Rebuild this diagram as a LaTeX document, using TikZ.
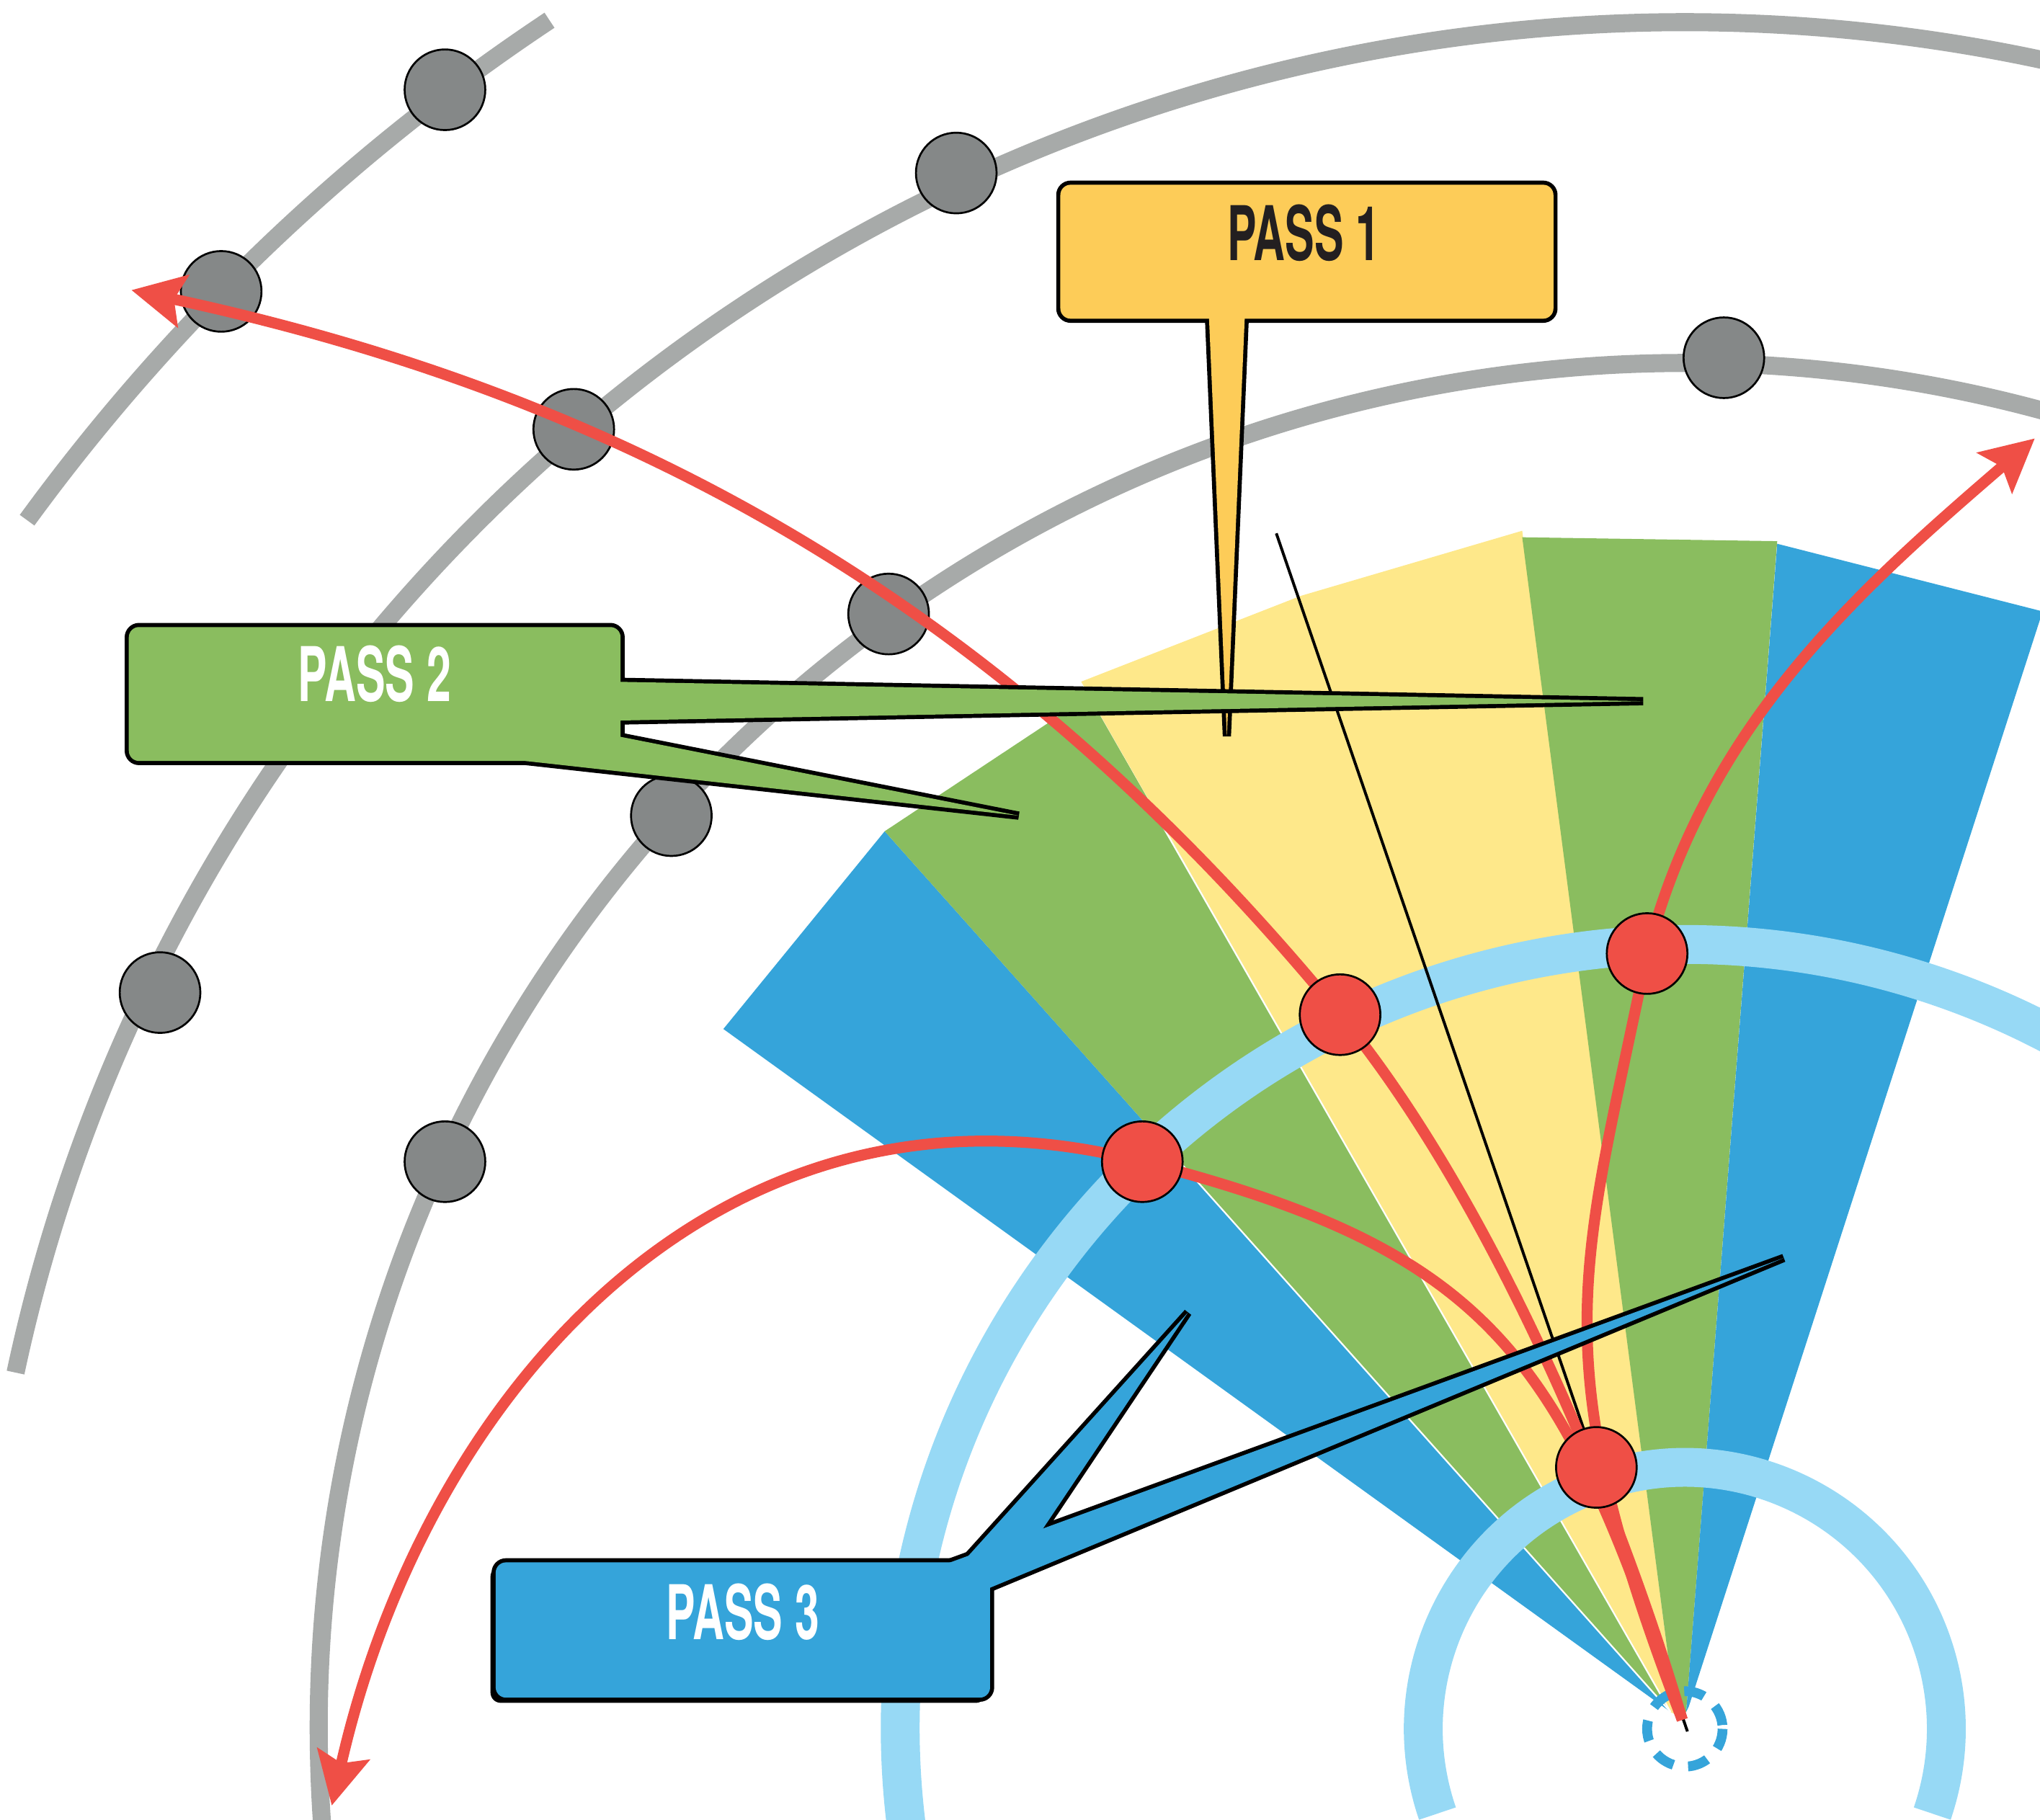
\documentclass[tikz,border=0pt]{standalone}
\usepackage{fontspec}
\usepackage{graphicx}
\setsansfont{TeX Gyre Heros}
\usetikzlibrary{arrows.meta}
\definecolor{cgrayarc}{HTML}{A7AAA9}
\definecolor{cgraydot}{HTML}{858888}
\definecolor{cred}{HTML}{EF4F46}
\definecolor{clblue}{HTML}{97D9F5}
\definecolor{cblue}{HTML}{35A4DA}
\definecolor{cgreen}{HTML}{8ABD5F}
\definecolor{cyellow}{HTML}{FEE88A}
\definecolor{corange}{HTML}{FDCC58}
\definecolor{ctext}{HTML}{231F20}
\newcommand\passtext[1]{\scalebox{0.58}[1]{\fontsize{33}{33}\selectfont\sffamily\bfseries #1}}
\begin{document}
\begin{tikzpicture}[x=0.02cm, y=-0.02cm,
  orbit/.style={draw=cgrayarc, line width=7.9pt},
  ring/.style={draw=clblue, line width=17pt},
  graydotst/.style={circle, fill=cgraydot, draw=black, line width=0.85pt, minimum size=1.24cm, inner sep=0pt},
  reddotst/.style={circle, fill=cred, draw=black, line width=0.85pt, minimum size=1.24cm, inner sep=0pt},
  redarrow/.style={draw=cred, line width=4.8pt, -{Stealth[length=23pt,width=23pt,inset=4pt]}},
  outlinest/.style={draw=black, line width=3.6pt},
  labeltext/.style={inner sep=0pt, anchor=center}
]
\path[use as bounding box] (0,0) rectangle (1568,1399);
\clip (0,0) rectangle (1568,1399);

% gray orbits
\coordinate (o) at (1295,1329);
\draw[orbit] (o) ++(216.1:1577) arc[start angle=216.1, end angle=236.4, radius=1577];
\draw[orbit] (o) ++(192.05:1312) arc[start angle=192.05, end angle=290, radius=1312];
\draw[orbit] (o) ++(175:1050) arc[start angle=175, end angle=300, radius=1050];

% gray dots
\node[graydotst] (g1) at (342,69) {};
\node[graydotst] (g2) at (170,224) {};
\node[graydotst] (g3) at (735,133) {};
\node[graydotst] (g4) at (441,330) {};
\node[graydotst] (g5) at (123,763) {};
\node[graydotst] (g6) at (1325,275) {};
\node[graydotst] (g7) at (683,472) {};
\node[graydotst] (g8) at (516,627) {};
\node[graydotst] (g9) at (342,893) {};

% wedges
\fill[cblue] (556,791) -- (680,639) -- (1284,1316) -- cycle;
\fill[cgreen] (680,639) -- (837,535) -- (1284,1316) -- cycle;
\fill[cyellow] (831,524) -- (1000,458) -- (1170,408) -- (1288,1318) -- (1284,1316) -- cycle;
\fill[cgreen] (1170,413) -- (1366,416) -- (1296,1316) -- (1288,1318) -- cycle;
\fill[cblue] (1366,418) -- (1570,470) -- (1298,1312) -- (1296,1316) -- cycle;
\draw[white, line width=0.7pt] (885,620) -- (1284,1316);
\draw[white, line width=0.7pt] (895,880) -- (1284,1316);

% light blue rings
\draw[ring] (o) ++(171:603) arc[start angle=171, end angle=310, radius=603];
\draw[ring] (o) ++(161.1:201) arc[start angle=161.1, end angle=378.9, radius=201];

% dashed centre circle
\draw[cblue, line width=4.3pt, dash pattern=on 9pt off 6.5pt] (o) circle[radius=29];

% thin black line
\coordinate (k1) at (981,410);
\coordinate (k2) at (1297,1331);
\draw[black, line width=1.25pt] (k1) -- (k2);

% red paths
\coordinate (apex) at (1293,1322);
\coordinate (p1) at (1030,780);
\coordinate (p2) at (1266,733);
\coordinate (p3) at (878,893);
\coordinate (p4) at (1227,1128);
\coordinate (t1) at (101,223);
\coordinate (t2) at (1564,337);
\coordinate (t3) at (255,1388);
\draw[redarrow] (apex) .. controls (1242,1149) and (1144,919) .. (p1) .. controls (776,471) and (492,307) .. (t1);
\draw[redarrow] (apex) .. controls (1184,1038) and (1216,978) .. (p2) .. controls (1311,558) and (1427,455) .. (t2);
\draw[redarrow] (apex) .. controls (1201,1044) and (1150,963) .. (p3) .. controls (558,810) and (328,1066) .. (t3);

% red dots
\node[reddotst] (d1) at (p1) {};
\node[reddotst] (d2) at (p2) {};
\node[reddotst] (d3) at (p3) {};
\node[reddotst] (d4) at (p4) {};

% PASS 1
\draw[outlinest, rounded corners=4.5pt] (815,142) rectangle (1194,245);
\draw[outlinest] (929,238) -- (943,566) -- (957,238) -- cycle;
\fill[corange, rounded corners=4.5pt] (815,142) rectangle (1194,245);
\fill[corange] (929,238) -- (943,566) -- (957,238) -- cycle;
\node[labeltext, text=ctext] (l1) at (1002,179) {\passtext{PASS 1}};

% PASS 2
\draw[outlinest, rounded corners=4.5pt] (99,482) rectangle (477,585);
\draw[outlinest] (470,524) -- (1263,539) -- (470,554) -- cycle;
\draw[outlinest] (470,565) -- (783,627) -- (404,585) -- (470,585) -- cycle;
\fill[cgreen, rounded corners=4.5pt] (99,482) rectangle (477,585);
\fill[cgreen] (470,524) -- (1263,539) -- (470,554) -- cycle;
\fill[cgreen] (470,565) -- (783,627) -- (404,585) -- (470,585) -- cycle;
\node[labeltext, text=white] (l2) at (288,518) {\passtext{PASS 2}};

% PASS 3
\fill[black, rounded corners=4.5pt] (377,1204) rectangle (758,1309);
\draw[outlinest, rounded corners=4.5pt] (381,1201) rectangle (761,1305);
\draw[outlinest] (725,1203) -- (1371,967) -- (755,1223) -- cycle;
\draw[outlinest] (738,1203) -- (913,1009) -- (795,1185) -- cycle;
\fill[cblue, rounded corners=4.5pt] (381,1201) rectangle (761,1305);
\fill[cblue] (725,1203) -- (1371,967) -- (755,1223) -- cycle;
\fill[cblue] (738,1203) -- (913,1009) -- (795,1185) -- cycle;
\node[labeltext, text=white] (l3) at (571,1239) {\passtext{PASS 3}};
\end{tikzpicture}
\end{document}
